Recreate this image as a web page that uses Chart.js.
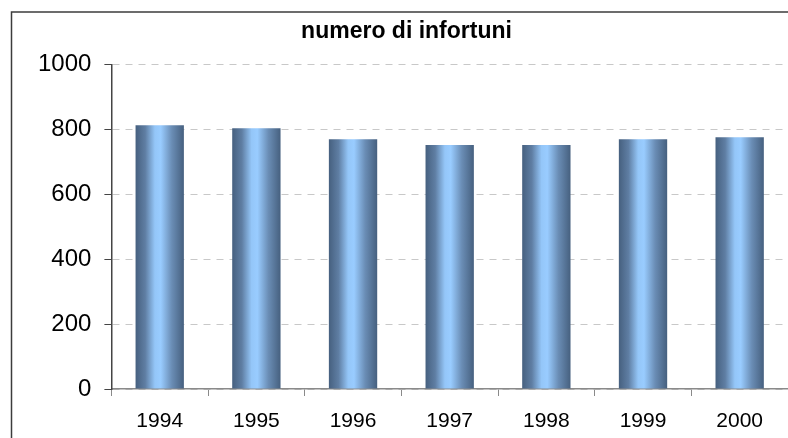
<!DOCTYPE html>
<html>
<head>
<meta charset="utf-8">
<script src="https://cdn.jsdelivr.net/npm/chart.js@4/dist/chart.umd.min.js"></script>
<style>
  html, body { margin: 0; padding: 0; background: #fff; }
  #wrap { width: 788px; height: 438px; position: relative; }
</style>
</head>
<body>
<div id="wrap"><canvas id="chart" width="788" height="438"></canvas></div>
<script>
const years = ['1994', '1995', '1996', '1997', '1998', '1999', '2000'];
const infortuni = [813, 804, 770, 752, 752, 770, 776];
const yTicks = [0, 200, 400, 600, 800, 1000];

const BAR_PCT = 0.5;

// cylinder look: dark edges, light centre, one gradient per bar
function barShade(context) {
  const chart = context.chart;
  const xs = chart.scales && chart.scales.x;
  if (!xs || !chart.chartArea) return '#7aa6d6';
  const cx = xs.getPixelForValue(context.dataIndex);
  const w = (xs.width / years.length) * BAR_PCT;
  const x0 = cx - w / 2;
  const g = chart.ctx.createLinearGradient(x0, 0, x0 + w, 0);
  g.addColorStop(0, '#46607f');
  g.addColorStop(0.2, '#5f7ea3');
  g.addColorStop(0.4, '#94c6f8');
  g.addColorStop(0.52, '#99ccff');
  g.addColorStop(0.75, '#6a8db5');
  g.addColorStop(1, '#46607f');
  return g;
}

// outer frame (left and top visible)
const frame = {
  id: 'frame',
  afterDraw(chart) {
    const ctx = chart.ctx;
    ctx.save();
    ctx.strokeStyle = '#3c3c3c';
    ctx.lineWidth = 1.5;
    ctx.beginPath();
    ctx.moveTo(11.5, 438);
    ctx.lineTo(11.5, 12);
    ctx.lineTo(788, 12);
    ctx.stroke();
    ctx.restore();
  },
};

new Chart(document.getElementById('chart'), {
  type: 'bar',
  data: {
    labels: years,
    datasets: [
      {
        data: infortuni,
        backgroundColor: barShade,
        borderWidth: 0,
        categoryPercentage: 1,
        barPercentage: BAR_PCT,
      },
    ],
  },
  options: {
    responsive: false,
    animation: false,
    devicePixelRatio: 1,
    layout: { padding: { left: 25, right: 0, top: 0, bottom: 6 } },
    plugins: {
      legend: { display: false },
      tooltip: { enabled: false },
      title: {
        display: true,
        text: 'numero di infortuni',
        color: '#000',
        font: { family: 'Liberation Sans, Arial, sans-serif', size: 23, weight: 'bold' },
        padding: { top: 18, bottom: 19 },
      },
    },
    scales: {
      x: {
        afterFit(scale) {
          scale.height = 43;
        },
        grid: {
          offset: true,
          drawOnChartArea: false,
          tickLength: 7,
          tickColor: '#8a8a8a',
        },
        border: { color: '#8a8a8a', width: 1.5 },
        ticks: {
          color: '#000',
          padding: 13,
          maxRotation: 0,
          font: { family: 'Liberation Sans, Arial, sans-serif', size: 21 },
        },
      },
      y: {
        min: 0,
        max: 1000,
        afterBuildTicks(scale) {
          scale.ticks = yTicks.map((v) => ({ value: v }));
        },
        grid: {
          color: '#c8c8c8',
          tickBorderDash: [],
          tickColor: '#444',
          tickLength: 7,
        },
        border: { color: '#444', width: 1.5, dash: [7, 6] },
        ticks: {
          color: '#000',
          padding: 13,
          callback: (v) => String(v),
          font: { family: 'Liberation Sans, Arial, sans-serif', size: 24 },
        },
      },
    },
  },
  plugins: [frame],
});
</script>
</body>
</html>
